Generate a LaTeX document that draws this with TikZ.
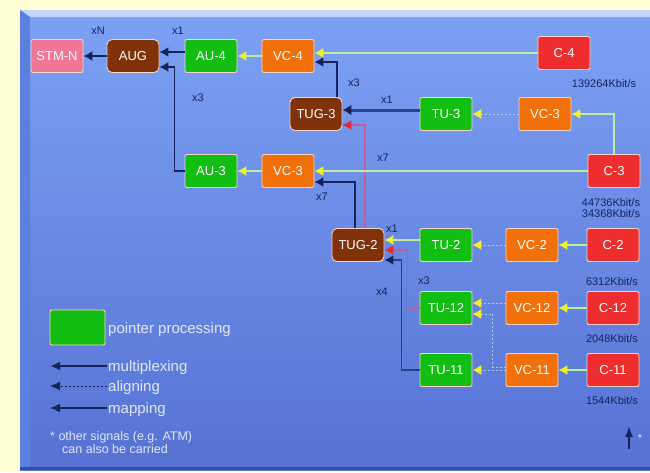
\documentclass[tikz,border=0pt]{standalone}
\usepackage{fontspec}
\setmainfont{Liberation Sans}
\usetikzlibrary{arrows.meta}
\definecolor{bgyel}{RGB}{255,255,214}
\definecolor{paneltop}{RGB}{124,162,244}
\definecolor{panelbot}{RGB}{86,114,212}
\definecolor{bevlight}{RGB}{196,214,250}
\definecolor{bevleft}{RGB}{92,128,222}
\definecolor{bevbot}{RGB}{50,78,170}
\definecolor{boxline}{RGB}{246,210,200}
\definecolor{stmc}{RGB}{240,118,150}
\definecolor{brownc}{RGB}{128,50,10}
\definecolor{greenc}{RGB}{18,190,18}
\definecolor{orangec}{RGB}{242,112,10}
\definecolor{redc}{RGB}{238,46,46}
\definecolor{navy}{RGB}{22,36,92}
\definecolor{muxblue}{RGB}{40,66,140}
\definecolor{pinkl}{RGB}{196,92,150}
\definecolor{redtip}{RGB}{225,40,60}
\definecolor{mapc}{RGB}{196,234,160}
\definecolor{aligc}{RGB}{178,204,226}
\definecolor{yeltip}{RGB}{240,240,40}
\definecolor{legtxt}{RGB}{225,230,245}
\tikzset{
  box/.style={draw=boxline, line width=0.9pt, rounded corners=2pt,
    minimum width=52pt, minimum height=33pt, inner sep=0pt,
    text=white, font=\fontsize{13}{13}\selectfont},
  stmbox/.style={box, fill=stmc},
  brownbox/.style={box, fill=brownc, rounded corners=5pt},
  greenbox/.style={box, fill=greenc},
  orangebox/.style={box, fill=orangec},
  redbox/.style={box, fill=redc},
  mux/.style={draw=navy, line width=1.4pt, -{Latex[length=9pt,width=10pt]}},
  muxp/.style={draw=pinkl, line width=1.4pt, -{Latex[length=9pt,width=10pt,color=redtip]}},
  mapl/.style={draw=mapc, line width=1.2pt, -{Latex[length=9pt,width=10pt,color=yeltip]}},
  alig/.style={draw=aligc, line width=1pt, dash pattern=on 2pt off 2pt, -{Latex[length=9pt,width=10pt,color=yeltip]}},
  lbl/.style={font=\fontsize{11}{11}\selectfont, text=navy, inner sep=0pt},
  rate/.style={font=\fontsize{11}{11}\selectfont, text=navy, inner sep=0pt},
  legtext/.style={font=\fontsize{15}{15}\selectfont, text=legtxt, inner sep=0pt, anchor=west},
  notetext/.style={font=\fontsize{12.5}{12.5}\selectfont, text=legtxt, inner sep=0pt, anchor=west},
}
\begin{document}
\begin{tikzpicture}[x=1pt,y=-1pt]
\useasboundingbox (0,0) rectangle (650,472);
% background and panel
\fill[bgyel] (0,0) rectangle (650,472);
\shade[top color=paneltop, bottom color=panelbot] (20,10) rectangle (650,470);
\fill[bevlight] (20,10) -- (650,10) -- (650,17) -- (30,17) -- cycle;
\fill[bevleft] (20,10) -- (30,17) -- (30,470) -- (20,470) -- cycle;
\fill[bevbot] (20,467) rectangle (650,470);

% nodes
\node[stmbox]    (STMN) at (57,56)  {STM-N};
\node[brownbox]  (AUG)  at (133,56) {AUG};
\node[greenbox]  (AU4)  at (211,56) {AU-4};
\node[orangebox] (VC4)  at (288,56) {VC-4};
\node[redbox]    (C4)   at (564,53) {C-4};

\node[brownbox]  (TUG3) at (316,114) {TUG-3};
\node[greenbox]  (TU3)  at (446,114) {TU-3};
\node[orangebox] (VC3a) at (545,114) {VC-3};

\node[greenbox]  (AU3)  at (211,171) {AU-3};
\node[orangebox] (VC3b) at (288,171) {VC-3};
\node[redbox]    (C3)   at (614,171) {C-3};

\node[brownbox]  (TUG2) at (358,245) {TUG-2};
\node[greenbox]  (TU2)  at (446,245) {TU-2};
\node[orangebox] (VC2)  at (532,245) {VC-2};
\node[redbox]    (C2)   at (613,245) {C-2};

\node[greenbox]  (TU12) at (446,308) {TU-12};
\node[orangebox] (VC12) at (532,308) {VC-12};
\node[redbox]    (C12)  at (613,308) {C-12};

\node[greenbox]  (TU11) at (446,370) {TU-11};
\node[orangebox] (VC11) at (532,370) {VC-11};
\node[redbox]    (C11)  at (613,370) {C-11};

% connectors
\draw[mux] (AUG.west) -- (STMN.east);
\draw[mux] ([yshift=4pt]AU4.west) -- ([yshift=4pt]AUG.east);
\draw[mux] (AU3.west) -- ++(-10,0) |- ([yshift=-11pt]AUG.east);
\draw[mapl] (VC4.west) -- (AU4.east);
\draw[mapl] (C4.west) -- (C4.west -| VC4.east);
\draw[mux] ([xshift=21pt]TUG3.north) |- ([yshift=-6pt]VC4.east);
\draw[mux, draw=muxblue, line width=3pt, -{Latex[length=9pt,width=11pt,color=navy]}] ([yshift=4pt]TU3.west) -- ([yshift=4pt]TUG3.east);
\draw[alig] (VC3a.west) -- (TU3.east);
\draw[mapl] (C3.north) |- (VC3a.east);
\draw[muxp] ([xshift=7pt]TUG2.north) |- ([yshift=-11pt]TUG3.east);
\draw[mux] ([xshift=-3pt]TUG2.north) |- ([yshift=-11pt]VC3b.east);
\draw[mapl] (C3.west) -- (VC3b.east);
\draw[mapl] (VC3b.west) -- (AU3.east);
\draw[mapl] ([yshift=5pt]TU2.west) -- ([yshift=5pt]TUG2.east);
\draw[alig] (VC2.west) -- (TU2.east);
\draw[mapl] (C2.west) -- (VC2.east);
\draw[muxp] (TU12.west) -- ++(-12,0) |- ([yshift=-5pt]TUG2.east);
\draw[mux, draw=muxblue, line width=1.8pt, -{Latex[length=9pt,width=10pt,color=navy]}] (TU11.west) -- ++(-18,0) |- ([yshift=-15pt]TUG2.east);
\draw[alig] ([yshift=5pt]VC12.west) -- ([yshift=5pt]TU12.east);
\draw[alig] ([yshift=3pt]VC11.west) -- ++(-13,0) |- ([yshift=-6pt]TU12.east);
\draw[alig] (VC11.west) -- (TU11.east);
\draw[mapl] (C12.west) -- (VC12.east);
\draw[mapl] (C11.west) -- (VC11.east);

% multiplicity labels
\node[lbl] (lxN)  at (98,31)  {xN};
\node[lbl] (lx1a) at (178,31) {x1};
\node[lbl] (lx3a) at (198,98) {x3};
\node[lbl] (lx3b) at (354,83) {x3};
\node[lbl] (lx1b) at (387,100) {x1};
\node[lbl] (lx7a) at (383,158) {x7};
\node[lbl] (lx7b) at (322,197) {x7};
\node[lbl] (lx1c) at (392,229) {x1};
\node[lbl] (lx3c) at (424,281) {x3};
\node[lbl] (lx4)  at (382,292) {x4};

% rates
\node[rate] (r1) at (604,84)  {139264Kbit/s};
\node[rate] (r2) at (611,203) {44736Kbit/s};
\node[rate] (r3) at (611,214) {34368Kbit/s};
\node[rate] (r4) at (612,282) {6312Kbit/s};
\node[rate] (r5) at (612,339) {2048Kbit/s};
\node[rate] (r6) at (612,401) {1544Kbit/s};

% legend
\node[greenbox, minimum width=55pt, minimum height=35pt] (lgbox) at (77.5,327.5) {};
\node[legtext] (lgt1) at (108,330) {pointer processing};
\coordinate (lm1) at (107,366); \coordinate (lm0) at (50,366);
\draw[mux, line width=2pt, -{Latex[length=10pt,width=9pt]}] (lm1) -- (lm0);
\node[legtext] (lgt2) at (108,368) {multiplexing};
\coordinate (la1) at (107,386); \coordinate (la0) at (50,386);
\draw[draw=navy, line width=0.8pt, dash pattern=on 2pt off 2pt, -{Latex[length=10pt,width=9pt]}] (la1) -- (la0);
\node[legtext] (lgt3) at (108,388) {aligning};
\coordinate (lp1) at (107,408); \coordinate (lp0) at (50,408);
\draw[mux, line width=1.4pt, -{Latex[length=10pt,width=9pt]}] (lp1) -- (lp0);
\node[legtext] (lgt4) at (108,410) {mapping};
\node[notetext] (note1) at (50,437) {*~other signals (e.g. ATM)};
\node[notetext] (note2) at (62,449) {can also be carried};

% other signals marker
\coordinate (os0) at (629,449); \coordinate (os1) at (629,426);
\draw[navy, line width=1.8pt, -{Latex[length=11pt,width=8pt]}] (os0) -- (os1);
\node[font=\fontsize{10}{10}\selectfont, text=white, inner sep=0pt] (ostar) at (640,438) {*};
\end{tikzpicture}
\end{document}
